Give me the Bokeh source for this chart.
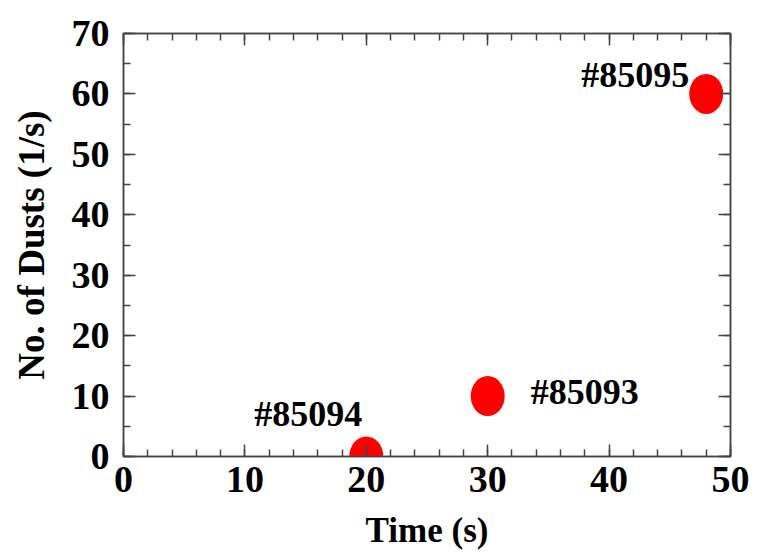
from bokeh.plotting import figure
from bokeh.models import ColumnDataSource, Range1d, LinearAxis, SingleIntervalTicker, CustomLabelingPolicy
from bokeh.core.properties import value
from bokeh.embed import file_html
from bokeh.resources import INLINE

# data
times = [20, 30, 48]
dusts = [0, 10, 60]
shots = ["#85094", "#85093", "#85095"]
x_ticks_major = 10
y_ticks_major = 10

# label styles (screen offsets relative to each point)
lab_dx = [-4, 43, -17]
lab_dy = [-43, -4, -19]
lab_align = ["right", "left", "right"]

FONT = "Liberation Serif"
AXC = "#444444"

src = ColumnDataSource(dict(x=times, y=dusts, t=shots, dx=lab_dx, dy=lab_dy, al=lab_align))

p = figure(width=760, height=552, output_backend="svg", toolbar_location=None,
           x_range=Range1d(0, 50), y_range=Range1d(0, 70),
           min_border_left=123, min_border_right=30, min_border_top=33, min_border_bottom=96)
p.xgrid.visible = False
p.ygrid.visible = False
p.outline_line_color = AXC
p.outline_line_width = 1.5
p.background_fill_color = "white"
p.border_fill_color = "white"

xt = SingleIntervalTicker(interval=x_ticks_major, num_minor_ticks=5)
yt = SingleIntervalTicker(interval=y_ticks_major, num_minor_ticks=2)

no_labels = CustomLabelingPolicy(code="for (const i of indices) { indices.unset(i) }\nreturn indices")

def style(ax, labels=True):
    ax.axis_line_color = AXC
    ax.axis_line_width = 1.5
    ax.major_tick_line_color = AXC
    ax.minor_tick_line_color = AXC
    ax.major_tick_line_width = 1.5
    ax.minor_tick_line_width = 1.5
    ax.major_tick_in = 12
    ax.major_tick_out = 0
    ax.minor_tick_in = 7
    ax.minor_tick_out = 0
    if labels:
        ax.major_label_text_font = FONT
        ax.major_label_text_font_style = "bold"
        ax.major_label_text_font_size = "38px"
        ax.major_label_text_color = "black"
        ax.axis_label_text_font = FONT
        ax.axis_label_text_font_style = "bold"
        ax.axis_label_text_font_size = "35px"
        ax.axis_label_text_color = "black"
    else:
        ax.major_label_policy = no_labels
        ax.major_label_standoff = 0

p.xaxis.ticker = xt
p.yaxis.ticker = yt
p.xaxis.axis_label = "Time (s)"
p.yaxis.axis_label = "No. of Dusts (1/s)"
style(p.xaxis[0])
style(p.yaxis[0])
p.yaxis.axis_label_text_font_size = "37px"
p.xaxis.major_label_standoff = 10
p.yaxis.major_label_standoff = 14
p.xaxis.axis_label_standoff = 16
p.yaxis.axis_label_standoff = 17

top = LinearAxis(ticker=xt)
right = LinearAxis(ticker=yt)
style(top, labels=False)
style(right, labels=False)
p.add_layout(top, "above")
p.add_layout(right, "right")

p.ellipse(x="x", y="y", width=34, height=40, width_units="screen", height_units="screen",
          source=src, fill_color="#ff0000", line_color=None)

p.text(x="x", y="y", text="t", x_offset="dx", y_offset="dy", text_align="al",
       text_baseline="alphabetic", source=src, text_font=value(FONT),
       text_font_style="bold", text_font_size="36px", text_color="black")

open("out.html", "w").write(file_html(p, INLINE))
